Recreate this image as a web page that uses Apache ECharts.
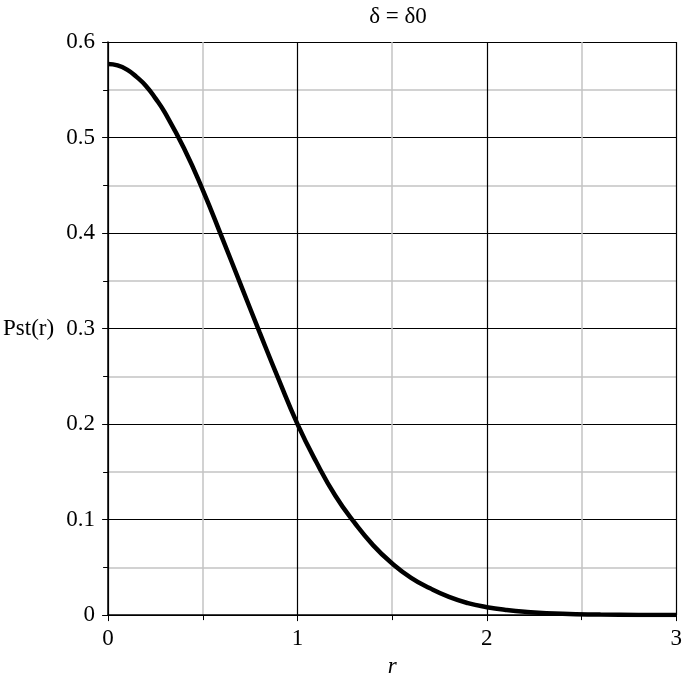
<!DOCTYPE html>
<html>
<head>
<meta charset="utf-8">
<script src="https://cdn.jsdelivr.net/npm/echarts@6/dist/echarts.min.js"></script>
<style>html,body{margin:0;padding:0;background:#fff;overflow:hidden}#c{width:100vw;height:100vh}</style>
</head>
<body>
<div id="c"></div>
<script>
const titleText = 'δ = δ0';
const xName = 'r';
const yName = 'Pst(r)';
const rValues = [0, 0.05, 0.1, 0.15, 0.2, 0.25, 0.3, 0.4, 0.5, 0.6, 0.7, 0.8, 0.9, 1.0, 1.1, 1.2, 1.3, 1.4, 1.5, 1.6, 1.7, 1.8, 1.9, 2.0, 2.1, 2.2, 2.4, 2.6, 2.8, 3.0];
const pValues = [0.577, 0.5755, 0.571, 0.5635, 0.554, 0.541, 0.526, 0.489, 0.445, 0.396, 0.346, 0.296, 0.247, 0.200, 0.160, 0.125, 0.097, 0.073, 0.054, 0.039, 0.028, 0.019, 0.0125, 0.0083, 0.0054, 0.0035, 0.0013, 0.0005, 0.0002, 0.0001];

const font = 'Liberation Serif';
const fs = 23;
const chart = echarts.init(document.getElementById('c'));
chart.setOption({
  animation: false,
  backgroundColor: '#fff',
  title: {
    text: titleText, left: 393, top: 0, textAlign: 'center',
    textStyle: {fontFamily: font, fontSize: fs, fontWeight: 'normal', color: '#000'}
  },
  grid: {left: 105, right: 3, top: 42, bottom: 59, containLabel: false},
  xAxis: {
    type: 'value', min: 0, max: 3, interval: 1,
    name: xName, nameLocation: 'middle', nameGap: 38,
    nameTextStyle: {fontFamily: font, fontSize: fs, fontStyle: 'italic', color: '#000'},
    axisLine: {show: true, onZero: false, lineStyle: {color: '#000', width: 1.5}},
    axisTick: {show: true, inside: false, length: 6, lineStyle: {color: '#000', width: 1}},
    minorTick: {show: true, splitNumber: 2, length: 5, lineStyle: {color: '#000', width: 1}},
    axisLabel: {margin: 12, fontFamily: font, fontSize: fs, color: '#000'},
    splitLine: {show: true, lineStyle: {color: '#000', width: 1.2}},
    minorSplitLine: {show: true, lineStyle: {color: '#c3c3c3', width: 1.5}}
  },
  yAxis: {
    type: 'value', min: 0, max: 0.6, interval: 0.1,
    name: yName, nameLocation: 'middle', nameRotate: 0, nameGap: 54,
    nameTextStyle: {fontFamily: font, fontSize: fs, color: '#000'},
    axisLine: {show: true, onZero: false, lineStyle: {color: '#000', width: 1.5}},
    axisTick: {show: true, inside: false, length: 6, lineStyle: {color: '#000', width: 1}},
    minorTick: {show: true, splitNumber: 2, length: 5, lineStyle: {color: '#000', width: 1}},
    axisLabel: {margin: 13, fontFamily: font, fontSize: fs, color: '#000'},
    splitLine: {show: true, lineStyle: {color: '#000', width: 1.2}},
    minorSplitLine: {show: true, lineStyle: {color: '#c3c3c3', width: 1.5}}
  },
  series: [{
    type: 'line',
    data: rValues.map((r, i) => [r, pValues[i]]),
    smooth: 0.5,
    showSymbol: false,
    lineStyle: {color: '#000', width: 4.5},
    clip: true
  }]
});
</script>
</body>
</html>
